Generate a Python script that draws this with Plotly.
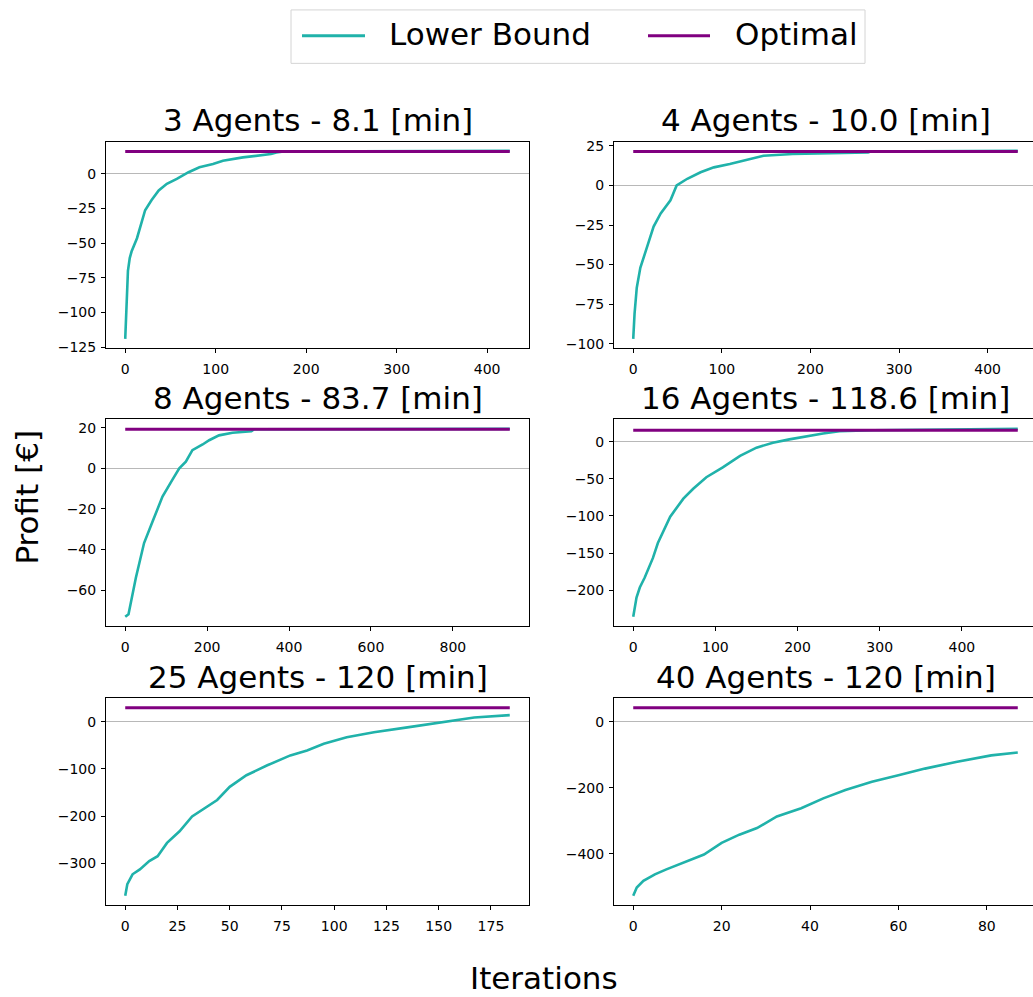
import plotly.graph_objects as go

# The figure is slightly larger than the 1033x997 window (the reference is cropped on the
# right, where the right-hand panels continue past the edge); the page hides the overflow.
W, H = 1040, 1020
FONT = "DejaVu Sans"
TEAL = "#20b2aa"
PURPLE = "#800080"

titles = ["3 Agents - 8.1 [min]", "4 Agents - 10.0 [min]", "8 Agents - 83.7 [min]",
          "16 Agents - 118.6 [min]", "25 Agents - 120 [min]", "40 Agents - 120 [min]"]

# Lower bound curves (iteration, profit)
lb_x_3 = [0, 1, 2, 3, 5, 7, 13, 18, 22, 29, 37, 46, 57, 70, 82, 97, 108, 130, 148, 161, 167, 175, 425]
lb_y_3 = [-119, -103.6, -84.5, -70, -60.7, -56, -46.4, -35.7, -26.2, -19, -11.9, -7.1, -3.6, 1.2, 4.8, 7.1,
          9.5, 11.9, 13.1, 14.3, 15.5, 16.2, 16.6]
opt_3 = 16.2

lb_x_4 = [0, 1.5, 4, 8, 17, 23, 31, 42, 49, 61, 76, 91, 109, 132, 147, 180, 218, 265, 268, 434]
lb_y_4 = [-96.9, -81, -64.6, -52, -36.5, -26, -17.7, -9.4, 0, 4.2, 8.3, 11.4, 13.5, 16.6, 18.7, 19.8,
          20.4, 20.8, 21.4, 21.8]
opt_4 = 21.4

lb_x_8 = [0, 8, 26, 46, 67, 91, 115, 132, 148, 164, 189, 205, 229, 262, 308, 315, 939]
lb_y_8 = [-73.2, -71.9, -53.9, -36.8, -26.1, -13.9, -5.7, 0, 3.3, 9.0, 11.8, 13.9, 16.3, 17.6, 18.3,
          19.3, 19.5]
opt_8 = 19.3

lb_x_16 = [0, 4, 8, 14, 24, 30, 45, 61, 73, 89, 109, 130, 150, 170, 190, 211, 231, 251, 292, 468]
lb_y_16 = [-236, -210, -196.5, -183, -156.6, -136.6, -101, -76.8, -63.5, -47.9, -34.6, -19.1, -8, -1.4,
           3.1, 7.5, 11, 14.1, 15.4, 17.3]
opt_16 = 15.5

lb_x_25 = [0, 1, 3.5, 7, 11.5, 15.5, 20, 26, 32, 39, 44, 50, 58, 68, 79, 87, 95, 106, 119, 135, 151,
           167, 184]
lb_y_25 = [-368.5, -344, -323, -312.6, -295, -284.6, -256.6, -232, -200.7, -179.7, -165.7, -137.8,
           -113.3, -92.3, -71.3, -60.8, -46.8, -32.9, -22.4, -11.9, -1.4, 9.1, 14]
opt_25 = 29.4

lb_x_40 = [0, 0.8, 2.3, 4.9, 7.5, 12, 16, 20, 24, 28, 32.5, 38, 43, 48, 54, 60, 66, 73, 81, 87]
lb_y_40 = [-527, -502, -482, -462, -447, -422, -402, -367, -342, -322, -287, -262, -232, -207, -182,
           -162, -142, -122, -102, -93]
opt_40 = 42

lb_x = [lb_x_3, lb_x_4, lb_x_8, lb_x_16, lb_x_25, lb_x_40]
lb_y = [lb_y_3, lb_y_4, lb_y_8, lb_y_16, lb_y_25, lb_y_40]
optimal = [opt_3, opt_4, opt_8, opt_16, opt_25, opt_40]
x_dtick = [100, 100, 200, 100, 25, 20]
y_dtick = [25, 25, 20, 50, 100, 200]

# layout geometry (window pixels)
col_left = [106, 614]
axw = 423
row_top = [139, 420, 702]
axh = 209


def px(x):
    return x / W


def py(y):
    return 1 - y / H


fig = go.Figure()
layout = dict(width=W, height=H, margin=dict(l=0, r=0, t=0, b=0),
              plot_bgcolor="white", paper_bgcolor="white", showlegend=False,
              font=dict(family=FONT, color="black"))
annotations = []
shapes = []

for i in range(6):
    r, c = divmod(i, 2)
    n = "" if i == 0 else str(i + 1)
    xs = lb_x[i]
    ys = lb_y[i]
    xmin, xmax = min(xs), max(xs)
    allv = ys + [optimal[i]]
    ymin, ymax = min(allv), max(allv)
    xlo = xmin - 0.05 * (xmax - xmin)
    xhi = xmax + 0.05 * (xmax - xmin)
    ylo = ymin - 0.05 * (ymax - ymin)
    yhi = ymax + 0.05 * (ymax - ymin)
    x0 = col_left[c]
    x1 = x0 + axw
    y0, y1 = row_top[r], row_top[r] + axh
    fig.add_trace(go.Scatter(x=xs, y=ys, mode="lines", name="Lower Bound",
                             line=dict(color=TEAL, width=2.6),
                             xaxis="x" + n, yaxis="y" + n))
    fig.add_trace(go.Scatter(x=[xmin, xmax], y=[optimal[i], optimal[i]], mode="lines", name="Optimal",
                             line=dict(color=PURPLE, width=3),
                             xaxis="x" + n, yaxis="y" + n))
    axcommon = dict(showgrid=False, ticks="outside", ticklen=4, tickwidth=1, tickcolor="black",
                    showline=True, linecolor="black", linewidth=1, mirror=True,
                    tickfont=dict(family=FONT, size=14, color="black"))
    layout["xaxis" + n] = dict(domain=[px(x0), px(x1)], anchor="y" + n, range=[xlo, xhi],
                               dtick=x_dtick[i], tick0=0, zeroline=False, ticklabelstandoff=4,
                               **axcommon)
    layout["yaxis" + n] = dict(domain=[py(y1), py(y0)], anchor="x" + n, range=[ylo, yhi],
                               dtick=y_dtick[i], tick0=0, zeroline=True, zerolinecolor="#b8b8b8",
                               zerolinewidth=1, ticklabelstandoff=2, **axcommon)
    annotations.append(dict(text=titles[i], xref="paper", yref="paper",
                            x=px(col_left[c] + axw / 2), y=py(y0 - 22),
                            xanchor="center", yanchor="middle", showarrow=False,
                            font=dict(family=FONT, size=31, color="black")))

# axis labels
annotations.append(dict(text="Profit [€]", xref="paper", yref="paper", x=px(27), y=py(499),
                        xanchor="center", yanchor="middle", textangle=-90, showarrow=False,
                        font=dict(family=FONT, size=31, color="black")))
annotations.append(dict(text="Iterations", xref="paper", yref="paper", x=px(544), y=py(985),
                        xanchor="center", yanchor="middle", showarrow=False,
                        font=dict(family=FONT, size=31, color="black")))

# legend (drawn manually to match the reference frame)
legend_names = ["Lower Bound", "Optimal"]
legend_colors = [TEAL, PURPLE]
leg_line_x = [(302, 365), (648, 710)]
leg_text_x = [387, 733]
leg_y = 32
shapes.append(dict(type="rect", xref="paper", yref="paper", x0=px(291), x1=px(865),
                   y0=py(60), y1=py(6), line=dict(color="#d4d4d4", width=1),
                   fillcolor="rgba(255,255,255,0.8)"))
for k in range(2):
    shapes.append(dict(type="line", xref="paper", yref="paper",
                       x0=px(leg_line_x[k][0]), x1=px(leg_line_x[k][1]),
                       y0=py(leg_y), y1=py(leg_y),
                       line=dict(color=legend_colors[k], width=3)))
    annotations.append(dict(text=legend_names[k], xref="paper", yref="paper",
                            x=px(leg_text_x[k]), y=py(leg_y - 2), xanchor="left", yanchor="middle",
                            showarrow=False, font=dict(family=FONT, size=31, color="black")))

layout["annotations"] = annotations
layout["shapes"] = shapes
fig.update_layout(**layout)
# remove the default 8px page margin so the figure starts at the window's top-left corner
fig.write_html("out.html", config={"displayModeBar": False},
               post_script="document.body.style.margin='0';document.body.style.overflow='hidden';"
                           "document.documentElement.style.overflow='hidden';")
